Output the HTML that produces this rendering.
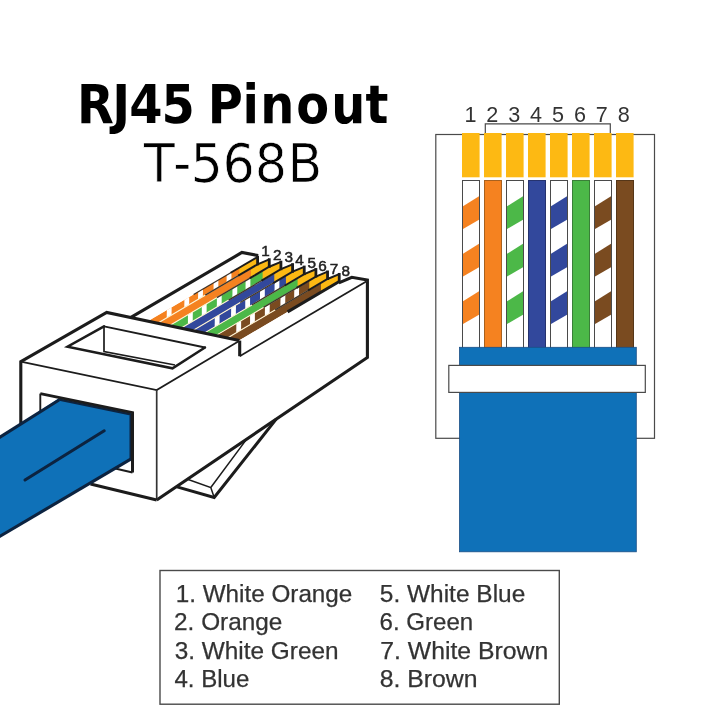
<!DOCTYPE html>
<html lang="en">
<head>
<meta charset="utf-8">
<title>RJ45 Pinout T-568B</title>
<style>
html,body{margin:0;padding:0;background:#fff;}
body{width:720px;height:720px;overflow:hidden;}
svg{display:block;will-change:transform;font-family:"Liberation Sans","DejaVu Sans",sans-serif;}
</style>
</head>
<body>
<svg width="720" height="720" viewBox="0 0 720 720">
<rect width="720" height="720" fill="#fff"/>
<g id="top-view">
<rect x="435.8" y="134.5" width="218.7" height="303.8" fill="#fff" stroke="#4a4a4a" stroke-width="1.2"/>
<path d="M485.3 134.5V123.8H610.3V134.5" fill="none" stroke="#4a4a4a" stroke-width="1.2"/>
<rect x="462" y="133" width="17.6" height="44.3" fill="#fdb913"/>
<rect x="484" y="133" width="17.6" height="44.3" fill="#fdb913"/>
<rect x="506" y="133" width="17.6" height="44.3" fill="#fdb913"/>
<rect x="528" y="133" width="17.6" height="44.3" fill="#fdb913"/>
<rect x="550" y="133" width="17.6" height="44.3" fill="#fdb913"/>
<rect x="572" y="133" width="17.6" height="44.3" fill="#fdb913"/>
<rect x="594" y="133" width="17.6" height="44.3" fill="#fdb913"/>
<rect x="616" y="133" width="17.6" height="44.3" fill="#fdb913"/>
<rect x="462.5" y="180.5" width="17" height="168" fill="#fff" stroke="#4a4a4a" stroke-width="1"/>
<polygon points="463,206.3 479,196.3 479,219.8 463,229.1" fill="#f58220"/>
<polygon points="463,253.8 479,243.8 479,267.3 463,276.6" fill="#f58220"/>
<polygon points="463,301.3 479,291.3 479,314.8 463,324.1" fill="#f58220"/>
<rect x="484.5" y="180.5" width="17" height="168" fill="#f58220" stroke="#a8611f" stroke-width="1"/>
<rect x="506.5" y="180.5" width="17" height="168" fill="#fff" stroke="#4a4a4a" stroke-width="1"/>
<polygon points="507,206.3 523,196.3 523,219.8 507,229.1" fill="#4cb848"/>
<polygon points="507,253.8 523,243.8 523,267.3 507,276.6" fill="#4cb848"/>
<polygon points="507,301.3 523,291.3 523,314.8 507,324.1" fill="#4cb848"/>
<rect x="528.5" y="180.5" width="17" height="168" fill="#32489c" stroke="#26336e" stroke-width="1"/>
<rect x="550.5" y="180.5" width="17" height="168" fill="#fff" stroke="#4a4a4a" stroke-width="1"/>
<polygon points="551,206.3 567,196.3 567,219.8 551,229.1" fill="#32489c"/>
<polygon points="551,253.8 567,243.8 567,267.3 551,276.6" fill="#32489c"/>
<polygon points="551,301.3 567,291.3 567,314.8 551,324.1" fill="#32489c"/>
<rect x="572.5" y="180.5" width="17" height="168" fill="#4cb848" stroke="#3a7f38" stroke-width="1"/>
<rect x="594.5" y="180.5" width="17" height="168" fill="#fff" stroke="#4a4a4a" stroke-width="1"/>
<polygon points="595,206.3 611,196.3 611,219.8 595,229.1" fill="#7a4b20"/>
<polygon points="595,253.8 611,243.8 611,267.3 595,276.6" fill="#7a4b20"/>
<polygon points="595,301.3 611,291.3 611,314.8 595,324.1" fill="#7a4b20"/>
<rect x="616.5" y="180.5" width="17" height="168" fill="#7a4b20" stroke="#553618" stroke-width="1"/>
<rect x="459.5" y="347.3" width="176.8" height="204.5" fill="#0f71b8" stroke="#1b4f86" stroke-width="0.8"/>
<rect x="448.8" y="365.4" width="196.5" height="27" fill="#fff" stroke="#4a4a4a" stroke-width="1.2"/>
<text x="470.4" y="121.7" font-size="21.6" text-anchor="middle" fill="#333">1</text>
<text x="492.3" y="121.7" font-size="21.6" text-anchor="middle" fill="#333">2</text>
<text x="514.2" y="121.7" font-size="21.6" text-anchor="middle" fill="#333">3</text>
<text x="536.1" y="121.7" font-size="21.6" text-anchor="middle" fill="#333">4</text>
<text x="558" y="121.7" font-size="21.6" text-anchor="middle" fill="#333">5</text>
<text x="579.9" y="121.7" font-size="21.6" text-anchor="middle" fill="#333">6</text>
<text x="601.8" y="121.7" font-size="21.6" text-anchor="middle" fill="#333">7</text>
<text x="623.7" y="121.7" font-size="21.6" text-anchor="middle" fill="#333">8</text>
</g>
<g id="iso" stroke-linejoin="miter" stroke-linecap="butt">
<polygon points="20.8,361.7 106.7,312.5 130.5,317.54 241.9,252.5 257.6,255.8 352,277.3 367.4,280 367.4,357.5 156.7,500 20.5,469" fill="#fff"/>
<polygon points="177.5,485.93 214.2,497.5 275.6,419.59" fill="#fff"/>
<path d="M177 486.87L214.2 497.5L276.2 419.18" fill="none" stroke="#1c1c1c" stroke-width="3" stroke-linejoin="miter"/>
<path d="M187.5 479.17L210.8 487.5L214.2 497.5M210.8 487.5L246.7 439.13" fill="none" stroke="#1c1c1c" stroke-width="1.5"/>
<clipPath id="cw0"><polygon points="147.83,321.22 245.94,263.82 257.6,257 257.6,264.3 157.62,323.29"/></clipPath>
<g clip-path="url(#cw0)">
<polygon points="147.83,321.22 245.94,263.82 257.6,257 257.6,264.3 157.62,323.29" fill="#f58220"/>
<polygon points="167.5,200 172.3,200 171.3,360 166.5,360" fill="#fff"/>
<polygon points="185,200 189.8,200 188.8,360 184,360" fill="#fff"/>
<polygon points="198.7,200 203.5,200 202.5,360 197.7,360" fill="#fff"/>
<polygon points="214.1,200 218.9,200 217.9,360 213.1,360" fill="#fff"/>
<polygon points="227.1,200 231.9,200 230.9,360 226.1,360" fill="#fff"/>
<rect x="239.3" y="240" width="18.3" height="60" fill="#fdb913"/>
</g>
<clipPath id="cw1"><polygon points="157.62,323.29 257.6,264.3 269.26,259.45 269.26,266.75 169.25,325.76"/></clipPath>
<g clip-path="url(#cw1)">
<polygon points="157.62,323.29 257.6,264.3 269.26,259.45 269.26,266.75 169.25,325.76" fill="#f58220"/>
<rect x="250.96" y="240" width="18.3" height="60" fill="#fdb913"/>
</g>
<clipPath id="cw2"><polygon points="169.25,325.76 269.26,266.75 280.92,261.9 280.92,269.2 180.88,328.22"/></clipPath>
<g clip-path="url(#cw2)">
<polygon points="169.25,325.76 269.26,266.75 280.92,261.9 280.92,269.2 180.88,328.22" fill="#4cb848"/>
<polygon points="188.7,200 193.5,200 192.5,360 187.7,360" fill="#fff"/>
<polygon points="202.5,200 207.3,200 206.3,360 201.5,360" fill="#fff"/>
<polygon points="217.5,200 222.3,200 221.3,360 216.5,360" fill="#fff"/>
<polygon points="233,200 237.8,200 236.8,360 232,360" fill="#fff"/>
<polygon points="246.1,200 250.9,200 249.9,360 245.1,360" fill="#fff"/>
<rect x="262.62" y="240" width="18.3" height="60" fill="#fdb913"/>
</g>
<clipPath id="cw3"><polygon points="180.88,328.22 280.92,269.2 292.58,264.35 292.58,271.65 192.52,330.69"/></clipPath>
<g clip-path="url(#cw3)">
<polygon points="180.88,328.22 280.92,269.2 292.58,264.35 292.58,271.65 192.52,330.69" fill="#32489c"/>
<rect x="274.28" y="240" width="18.3" height="60" fill="#fdb913"/>
</g>
<clipPath id="cw4"><polygon points="192.52,330.69 292.58,271.65 304.24,266.8 304.24,274.1 204.15,333.15"/></clipPath>
<g clip-path="url(#cw4)">
<polygon points="192.52,330.69 292.58,271.65 304.24,266.8 304.24,274.1 204.15,333.15" fill="#32489c"/>
<polygon points="215.5,200 220.3,200 219.3,360 214.5,360" fill="#fff"/>
<polygon points="231.8,200 236.6,200 235.6,360 230.8,360" fill="#fff"/>
<polygon points="245.9,200 250.7,200 249.7,360 244.9,360" fill="#fff"/>
<polygon points="260.6,200 265.4,200 264.4,360 259.6,360" fill="#fff"/>
<polygon points="275.1,200 279.9,200 278.9,360 274.1,360" fill="#fff"/>
<rect x="285.94" y="240" width="18.3" height="60" fill="#fdb913"/>
</g>
<clipPath id="cw5"><polygon points="204.15,333.15 304.24,274.1 315.9,269.25 315.9,276.55 215.79,335.62"/></clipPath>
<g clip-path="url(#cw5)">
<polygon points="204.15,333.15 304.24,274.1 315.9,269.25 315.9,276.55 215.79,335.62" fill="#4cb848"/>
<rect x="297.6" y="240" width="18.3" height="60" fill="#fdb913"/>
</g>
<clipPath id="cw6"><polygon points="215.79,335.62 315.9,276.55 327.56,271.7 327.56,279 227.42,338.08"/></clipPath>
<g clip-path="url(#cw6)">
<polygon points="215.79,335.62 315.9,276.55 327.56,271.7 327.56,279 227.42,338.08" fill="#7a4b20"/>
<polygon points="237.1,200 241.9,200 240.9,360 236.1,360" fill="#fff"/>
<polygon points="250.8,200 255.6,200 254.6,360 249.8,360" fill="#fff"/>
<polygon points="265.6,200 270.4,200 269.4,360 264.6,360" fill="#fff"/>
<polygon points="281.1,200 285.9,200 284.9,360 280.1,360" fill="#fff"/>
<polygon points="294.8,200 299.6,200 298.6,360 293.8,360" fill="#fff"/>
<rect x="309.26" y="240" width="18.3" height="60" fill="#fdb913"/>
</g>
<clipPath id="cw7"><polygon points="227.42,338.08 327.56,279 339.22,274.15 339.22,281.45 239.05,340.55"/></clipPath>
<g clip-path="url(#cw7)">
<polygon points="227.42,338.08 327.56,279 339.22,274.15 339.22,281.45 239.05,340.55" fill="#7a4b20"/>
<rect x="320.92" y="240" width="18.3" height="60" fill="#fdb913"/>
</g>
<path d="M193.6 294.44L231.6 272.21" fill="none" stroke="#2a2018" stroke-width="1.3" stroke-opacity="0.9"/>
<path d="M230.6 272.8L257.6 257" fill="none" stroke="#1c1c1c" stroke-width="1.9"/>
<line x1="157.62" y1="323.29" x2="257.6" y2="264.3" stroke="#fdf1cf" stroke-width="1.1"/>
<path d="M205.26 295.18L239.26 275.12" fill="none" stroke="#2a2018" stroke-width="1.3" stroke-opacity="0.9"/>
<path d="M238.26 275.71L257.6 264.3L269.26 259.45" fill="none" stroke="#1c1c1c" stroke-width="2.0"/>
<line x1="169.25" y1="325.76" x2="269.26" y2="266.75" stroke="#fdf1cf" stroke-width="1.1"/>
<path d="M216.92 297.63L250.92 277.57" fill="none" stroke="#2a2018" stroke-width="1.3" stroke-opacity="0.9"/>
<path d="M249.92 278.16L269.26 266.75L280.92 261.9" fill="none" stroke="#1c1c1c" stroke-width="2.0"/>
<line x1="180.88" y1="328.22" x2="280.92" y2="269.2" stroke="#fdf1cf" stroke-width="1.1"/>
<path d="M228.58 300.08L262.58 280.02" fill="none" stroke="#2a2018" stroke-width="1.3" stroke-opacity="0.9"/>
<path d="M261.58 280.61L280.92 269.2L292.58 264.35" fill="none" stroke="#1c1c1c" stroke-width="2.0"/>
<line x1="192.52" y1="330.69" x2="292.58" y2="271.65" stroke="#fdf1cf" stroke-width="1.1"/>
<path d="M240.24 302.53L274.24 282.47" fill="none" stroke="#2a2018" stroke-width="1.3" stroke-opacity="0.9"/>
<path d="M273.24 283.06L292.58 271.65L304.24 266.8" fill="none" stroke="#1c1c1c" stroke-width="2.0"/>
<line x1="204.15" y1="333.15" x2="304.24" y2="274.1" stroke="#fdf1cf" stroke-width="1.1"/>
<path d="M251.9 304.98L285.9 284.92" fill="none" stroke="#2a2018" stroke-width="1.3" stroke-opacity="0.9"/>
<path d="M284.9 285.51L304.24 274.1L315.9 269.25" fill="none" stroke="#1c1c1c" stroke-width="2.0"/>
<line x1="215.79" y1="335.62" x2="315.9" y2="276.55" stroke="#fdf1cf" stroke-width="1.1"/>
<path d="M263.56 307.43L297.56 287.37" fill="none" stroke="#2a2018" stroke-width="1.3" stroke-opacity="0.9"/>
<path d="M296.56 287.96L315.9 276.55L327.56 271.7" fill="none" stroke="#1c1c1c" stroke-width="2.0"/>
<line x1="227.42" y1="338.08" x2="327.56" y2="279" stroke="#fdf1cf" stroke-width="1.1"/>
<path d="M275.22 309.88L309.22 289.82" fill="none" stroke="#2a2018" stroke-width="1.3" stroke-opacity="0.9"/>
<path d="M308.22 290.41L327.56 279L339.22 274.15" fill="none" stroke="#1c1c1c" stroke-width="2.0"/>
<line x1="287.6" y1="311.91" x2="339.22" y2="281.45" stroke="#1c1c1c" stroke-width="3"/>
<line x1="257.6" y1="255.8" x2="257.6" y2="265.3" stroke="#1c1c1c" stroke-width="2.8"/>
<line x1="269.26" y1="258.25" x2="269.26" y2="267.75" stroke="#1c1c1c" stroke-width="2.8"/>
<line x1="280.92" y1="260.7" x2="280.92" y2="270.2" stroke="#1c1c1c" stroke-width="2.8"/>
<line x1="292.58" y1="263.15" x2="292.58" y2="272.65" stroke="#1c1c1c" stroke-width="2.8"/>
<line x1="304.24" y1="265.6" x2="304.24" y2="275.1" stroke="#1c1c1c" stroke-width="2.8"/>
<line x1="315.9" y1="268.05" x2="315.9" y2="277.55" stroke="#1c1c1c" stroke-width="2.8"/>
<line x1="327.56" y1="270.5" x2="327.56" y2="280" stroke="#1c1c1c" stroke-width="2.8"/>
<line x1="339.22" y1="272.95" x2="339.22" y2="282.45" stroke="#1c1c1c" stroke-width="2.8"/>
<path d="M130.5 317.54L241.9 252.5L258.2 255.6" fill="none" stroke="#1c1c1c" stroke-width="3.1"/>
<path d="M338.82 282.95L351.8 277.3L367.4 280L367.4 357.5L156.7 500" fill="none" stroke="#1c1c1c" stroke-width="3.1"/>
<path d="M239.7 340.6V356.2" fill="none" stroke="#1c1c1c" stroke-width="3.1"/>
<path d="M239.7 356.2L366.2 281.6" fill="none" stroke="#1c1c1c" stroke-width="1.7"/>
<path d="M20.8 424V361.7L106.7 312.5L239.3 340.6" fill="none" stroke="#1c1c1c" stroke-width="3.1"/>
<path d="M20.8 361.7L156.7 390L238.3 341.6" fill="none" stroke="#1c1c1c" stroke-width="1.7"/>
<path d="M156.7 390V500" fill="none" stroke="#333" stroke-width="1.7"/>
<path d="M90.5 484L156.7 500" fill="none" stroke="#1c1c1c" stroke-width="3.1"/>
<polygon points="67.5,346.7 104,326.4 205,347.5 172.5,368.3" fill="#fff"/>
<path d="M104 326.4L205 347.5" fill="none" stroke="#1c1c1c" stroke-width="1.8" stroke-linecap="round"/>
<path d="M205 347.5L172.5 368.3L67.5 346.7L104 326.4" fill="none" stroke="#1c1c1c" stroke-width="2.5" stroke-linecap="round" stroke-linejoin="miter"/>
<path d="M104 326.4V351.6L175 365" fill="none" stroke="#1c1c1c" stroke-width="1.7"/>
<polygon points="40.3,393.6 132.5,412.6 132.5,472.5 40.3,453.5" fill="#fff"/>
<path d="M40.3 411V393.6" fill="none" stroke="#1c1c1c" stroke-width="1.9"/>
<path d="M132.5 472.5L112 467.8" fill="none" stroke="#1c1c1c" stroke-width="1.9"/>
<polygon points="58.6,398.6 132,412.3 132,458.2 -5,539.4 -5,440" fill="#0f71b8"/>
<path d="M-5 440.2L59 400.0" fill="none" stroke="#0c2340" stroke-width="3.1"/>
<path d="M132 458.4L-5 539.2" fill="none" stroke="#0c2340" stroke-width="3.1"/>
<path d="M104.2 430.8L25 480" fill="none" stroke="#0c2340" stroke-width="3.1" stroke-linecap="round"/>
<path d="M58 399.4L130.6 414.4V458.6" fill="none" stroke="#0c2340" stroke-width="2.2"/>
<path d="M40.3 393.6L132.5 412.6V472.5" fill="none" stroke="#1c1c1c" stroke-width="3"/>
<text x="265.6" y="256.2" font-size="15.3" text-anchor="middle" fill="#222" stroke="#222" stroke-width="0.5">1</text>
<text x="277.3" y="259.8" font-size="15.3" text-anchor="middle" fill="#222" stroke="#222" stroke-width="0.5">2</text>
<text x="288.8" y="262.3" font-size="15.3" text-anchor="middle" fill="#222" stroke="#222" stroke-width="0.5">3</text>
<text x="299.6" y="265.2" font-size="15.3" text-anchor="middle" fill="#222" stroke="#222" stroke-width="0.5">4</text>
<text x="311.8" y="268.2" font-size="15.3" text-anchor="middle" fill="#222" stroke="#222" stroke-width="0.5">5</text>
<text x="322.6" y="271.1" font-size="15.3" text-anchor="middle" fill="#222" stroke="#222" stroke-width="0.5">6</text>
<text x="333.9" y="274.3" font-size="15.3" text-anchor="middle" fill="#222" stroke="#222" stroke-width="0.5">7</text>
<text x="345.8" y="276" font-size="15.3" text-anchor="middle" fill="#222" stroke="#222" stroke-width="0.5">8</text>
</g>
<g id="titles" fill="#000" font-family="'DejaVu Sans Condensed','DejaVu Sans','Liberation Sans',sans-serif">
<text x="76.94 112.13 129.15 161.49 196 207.87 242.58 260.22 296.13 331.21 365.62" y="123" font-size="53.2" font-weight="700">RJ45 Pinout</text>
<text transform="scale(1.05,1)" x="136.8 164.88 181.43 211.81 242.52 273.92" y="182.5" font-size="53.8" stroke="#fff" stroke-width="0.7">T-568B</text>
</g>
<g id="legend">
<rect x="160" y="570.5" width="399.3" height="133.7" fill="#fff" stroke="#4a4a4a" stroke-width="1.4"/>
<text x="175.66" y="602" font-size="24.2" fill="#333" stroke="#333" stroke-width="0.25" textLength="176.72" lengthAdjust="spacingAndGlyphs">1. White Orange</text>
<text x="379.82" y="602" font-size="24.2" fill="#333" stroke="#333" stroke-width="0.25" textLength="145.46" lengthAdjust="spacingAndGlyphs">5. White Blue</text>
<text x="174.08" y="630.3" font-size="24.2" fill="#333" stroke="#333" stroke-width="0.25" textLength="108.29" lengthAdjust="spacingAndGlyphs">2. Orange</text>
<text x="379.57" y="630.3" font-size="24.2" fill="#333" stroke="#333" stroke-width="0.25" textLength="93.7" lengthAdjust="spacingAndGlyphs">6. Green</text>
<text x="174.67" y="658.6" font-size="24.2" fill="#333" stroke="#333" stroke-width="0.25" textLength="163.91" lengthAdjust="spacingAndGlyphs">3. White Green</text>
<text x="380.24" y="658.6" font-size="24.2" fill="#333" stroke="#333" stroke-width="0.25" textLength="168.08" lengthAdjust="spacingAndGlyphs">7. White Brown</text>
<text x="174.45" y="686.9" font-size="24.2" fill="#333" stroke="#333" stroke-width="0.25" textLength="74.92" lengthAdjust="spacingAndGlyphs">4. Blue</text>
<text x="379.74" y="686.9" font-size="24.2" fill="#333" stroke="#333" stroke-width="0.25" textLength="97.68" lengthAdjust="spacingAndGlyphs">8. Brown</text>
</g>
</svg>
</body>
</html>
